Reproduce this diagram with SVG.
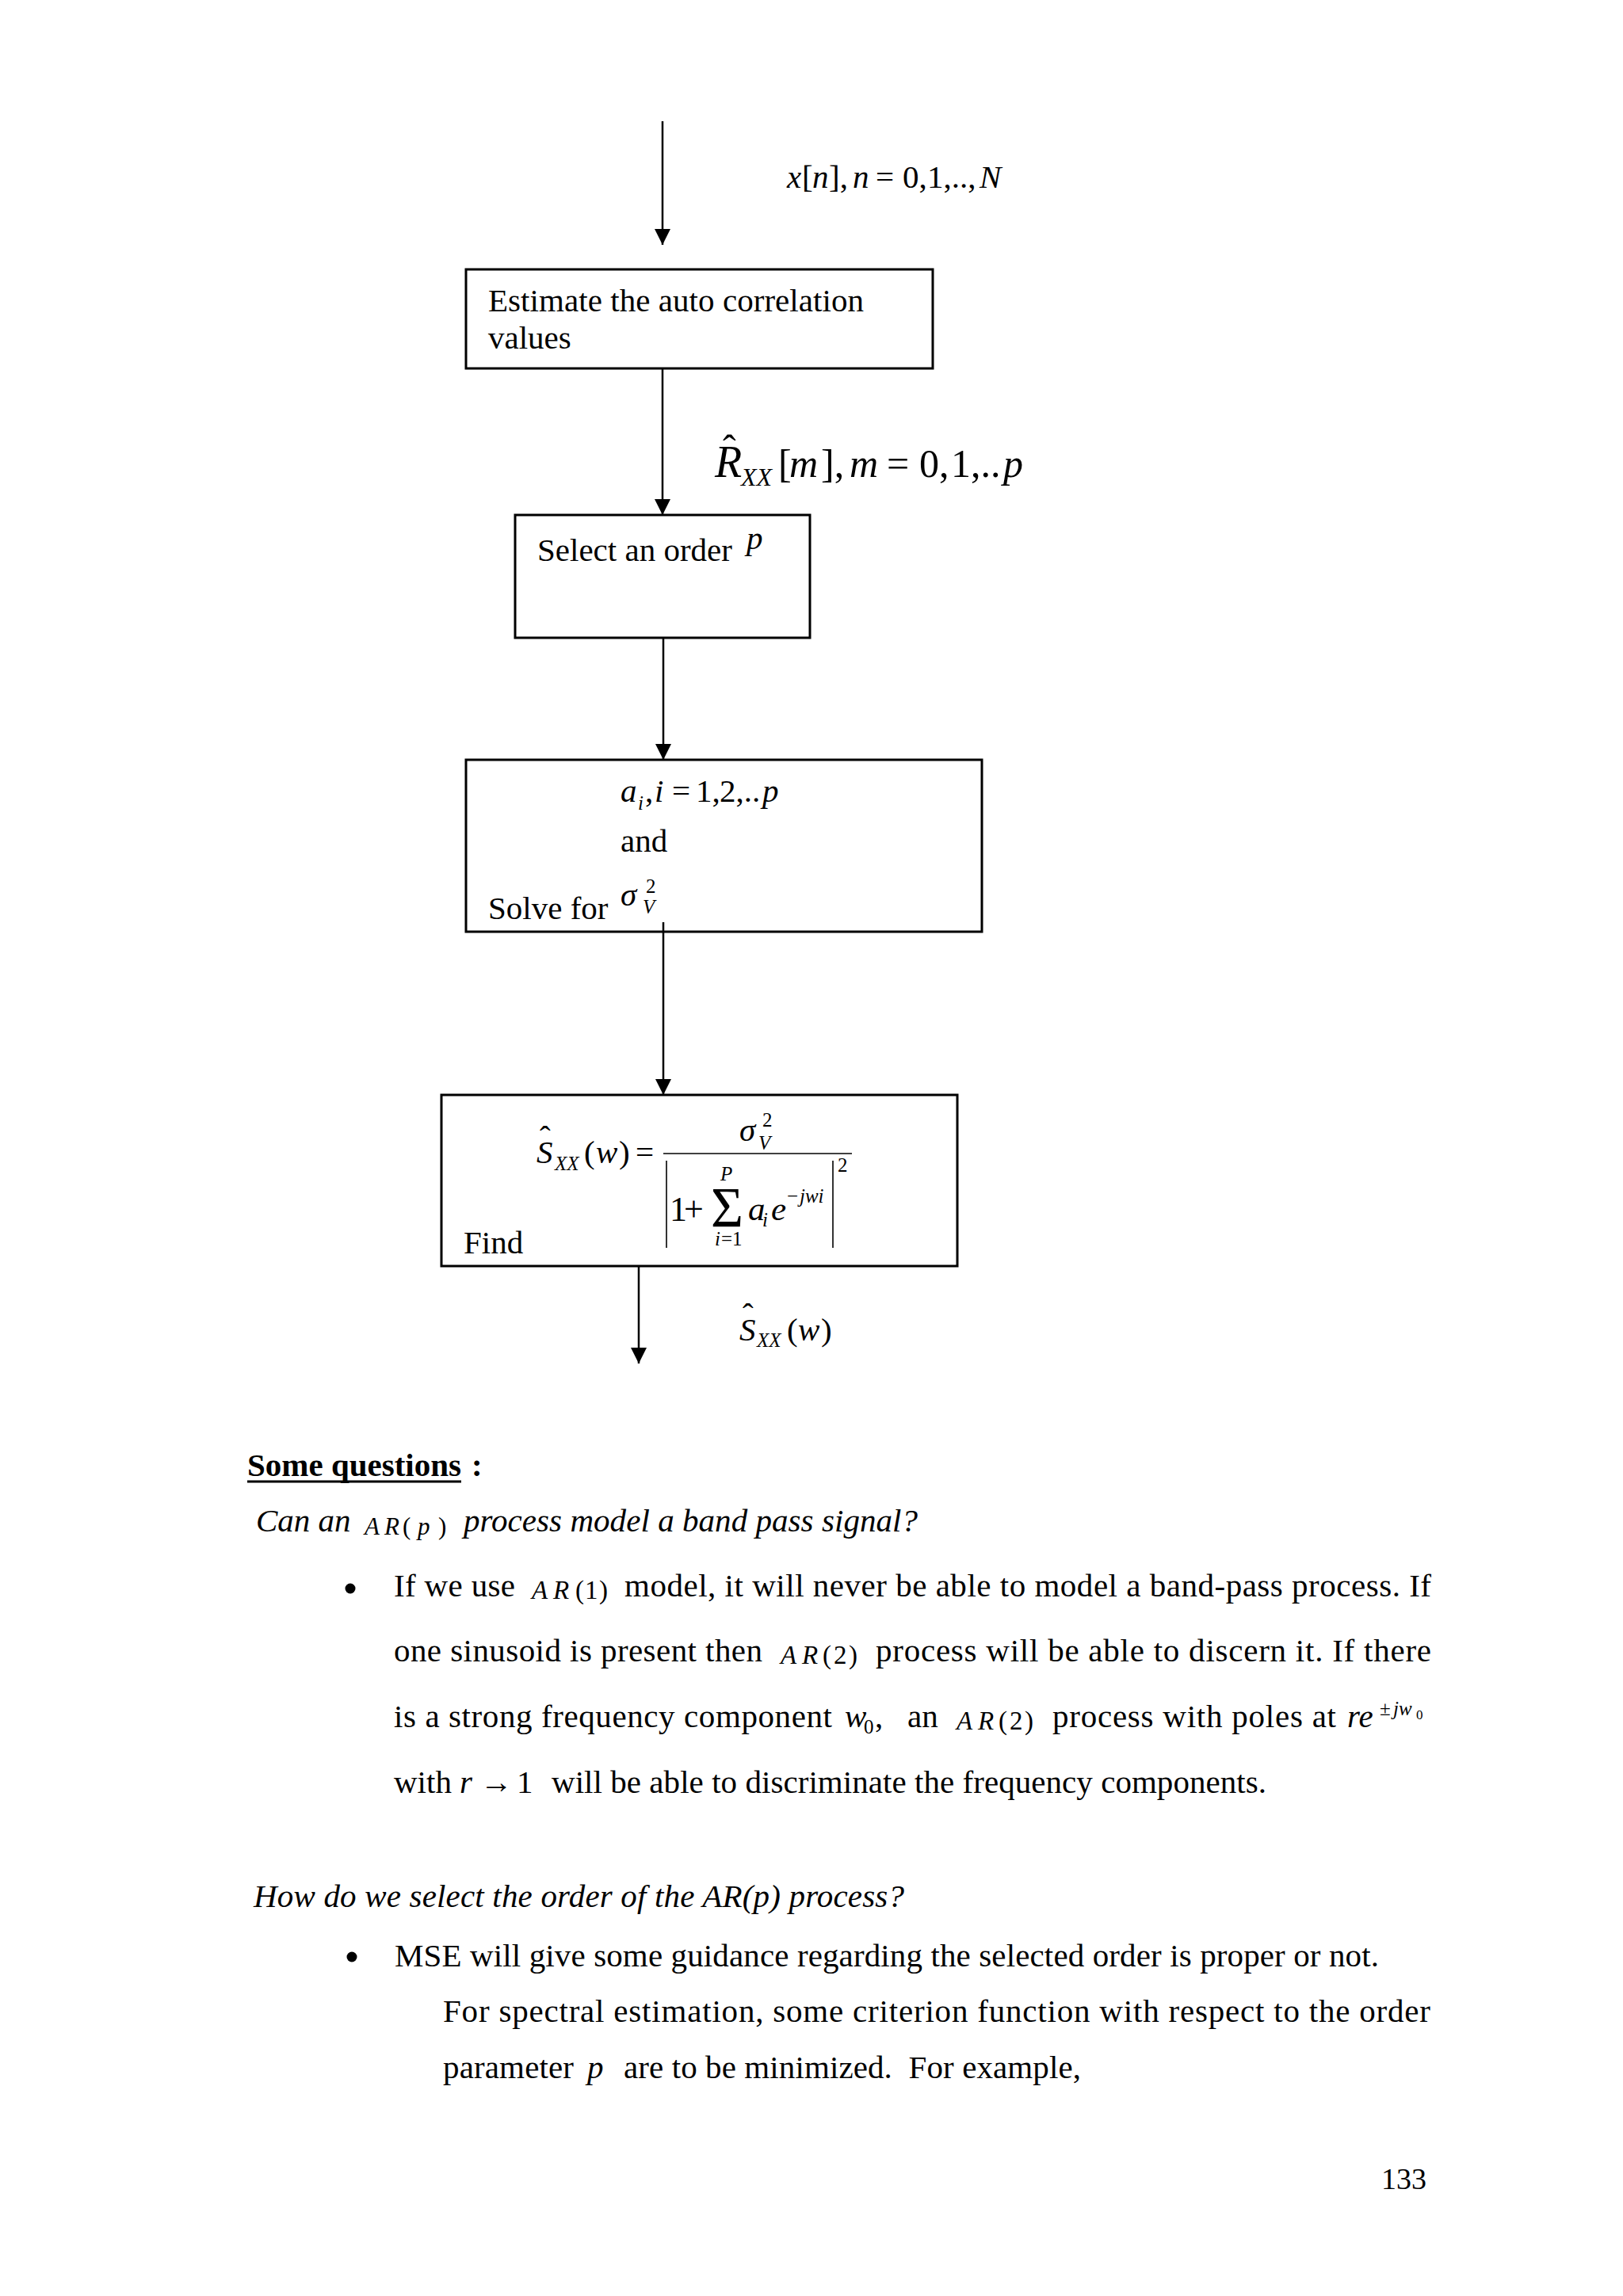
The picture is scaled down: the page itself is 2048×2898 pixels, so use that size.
<svg xmlns="http://www.w3.org/2000/svg" width="2048" height="2898" viewBox="0 0 2048 2898">
<style>
.t{font-family:"Liberation Serif","Times New Roman",serif;font-size:41px;fill:#000}
.i{font-style:italic}
.sm{font-size:25px}
.box{fill:none;stroke:#000;stroke-width:3}
.ln{fill:none;stroke:#000;stroke-width:2.5}
.thin{fill:none;stroke:#000;stroke-width:1.6}
</style>
<defs>
<marker id="ah" markerUnits="userSpaceOnUse" markerWidth="20" markerHeight="20" refX="20" refY="10" orient="auto" viewBox="0 0 20 20"><path d="M0,0 L20,10 L0,20 Z" fill="#000"/></marker>
</defs>
<rect width="2048" height="2898" fill="#fff"/>

<g id="connectors">
<path class="ln" d="M836,153 V309" marker-end="url(#ah)"/>
<path class="ln" d="M836,465 V650" marker-end="url(#ah)"/>
<path class="ln" d="M837,805 V959" marker-end="url(#ah)"/>
<path class="ln" d="M837,1164 V1382" marker-end="url(#ah)"/>
<path class="ln" d="M806,1598 V1721" marker-end="url(#ah)"/>
</g>

<g id="label-input">
<text class="t" y="237"><tspan x="993" class="i">x</tspan><tspan x="1012">[</tspan><tspan x="1025" class="i">n</tspan><tspan x="1046">],</tspan><tspan x="1076" class="i">n</tspan><tspan x="1105">=</tspan><tspan x="1139">0,</tspan><tspan x="1170">1,..,</tspan><tspan x="1236" class="i">N</tspan></text>
</g>

<g id="box1">
<rect class="box" x="588" y="340" width="589" height="125"/>
<text class="t" x="616" y="393" textLength="474">Estimate the auto correlation</text>
<text class="t" x="616" y="440">values</text>
</g>

<g id="label-autocorr">
<text class="t i" x="902" y="602" style="font-size:56px">R</text>
<text class="t" x="912" y="584" style="font-size:50px">ˆ</text>
<text class="t i" x="935" y="613" style="font-size:32px">XX</text>
<text class="t" y="602" style="font-size:50px"><tspan x="982">[</tspan><tspan x="996" class="i">m</tspan><tspan x="1036">],</tspan><tspan x="1072" class="i">m</tspan><tspan x="1119">=</tspan><tspan x="1160">0,</tspan><tspan x="1200">1,..</tspan><tspan x="1266" class="i">p</tspan></text>
</g>

<g id="box2">
<rect class="box" x="650" y="650" width="372" height="155"/>
<text class="t" x="678" y="708">Select an order</text>
<text class="t i" x="942" y="693">p</text>
</g>

<g id="box3">
<rect class="box" x="588" y="959" width="651" height="217"/>
<text class="t" y="1012"><tspan x="783" class="i">a</tspan><tspan x="814">,</tspan><tspan x="826" class="i">i</tspan><tspan x="848">=</tspan><tspan x="878">1,</tspan><tspan x="908">2,..</tspan><tspan x="962" class="i">p</tspan></text>
<text class="t i sm" x="805" y="1022">i</text>
<text class="t" x="783" y="1075">and</text>
<text class="t" x="616" y="1160">Solve for</text>
<text class="t i" x="783" y="1143">σ</text>
<text class="t i sm" x="811" y="1153">V</text>
<text class="t sm" x="815" y="1127">2</text>
</g>

<g id="box4">
<rect class="box" x="557" y="1382" width="651" height="216"/>
<text class="t" x="585" y="1582">Find</text>
<text class="t i" x="677" y="1468">S</text>
<text class="t" x="681" y="1449">ˆ</text>
<text class="t i sm" x="700" y="1477">XX</text>
<text class="t" y="1468"><tspan x="737">(</tspan><tspan x="752" class="i">w</tspan><tspan x="781">)</tspan><tspan x="802">=</tspan></text>
<line class="thin" x1="837" y1="1456" x2="1075" y2="1456"/>
<text class="t i" x="933" y="1440">σ</text>
<text class="t i sm" x="957" y="1451">V</text>
<text class="t sm" x="962" y="1422">2</text>
<line class="thin" x1="841" y1="1465" x2="841" y2="1575"/>
<line class="thin" x1="1051" y1="1465" x2="1051" y2="1575"/>
<text class="t sm" x="1057" y="1479">2</text>
<text class="t" x="845" y="1541" style="font-size:44px">1</text>
<text class="t" x="863" y="1541" style="font-size:44px">+</text>
<text class="t" x="897" y="1548" style="font-size:72px" textLength="41" lengthAdjust="spacingAndGlyphs">Σ</text>
<text class="t i sm" x="909" y="1490">P</text>
<text class="t sm" y="1572"><tspan x="902" class="i">i</tspan><tspan x="910">=1</tspan></text>
<text class="t i" x="944" y="1540" style="font-size:43px">a</text>
<text class="t i sm" x="962" y="1548">i</text>
<text class="t i" x="973" y="1540" style="font-size:43px">e</text>
<text class="t sm" y="1518"><tspan x="993">−</tspan><tspan x="1009" class="i">jwi</tspan></text>
</g>

<g id="label-output">
<text class="t i" x="933" y="1692">S</text>
<text class="t" x="937" y="1673">ˆ</text>
<text class="t i sm" x="955" y="1700">XX</text>
<text class="t" y="1692"><tspan x="993">(</tspan><tspan x="1007" class="i">w</tspan><tspan x="1036">)</tspan></text>
</g>

<g id="body">
<text class="t" x="312" y="1863" font-weight="bold">Some questions</text>
<line x1="312" y1="1870" x2="582" y2="1870" stroke="#000" stroke-width="3"/>
<text class="t" x="595" y="1863" font-weight="bold">:</text>

<text class="t i" x="323" y="1933">Can an</text>
<text class="t" y="1937" style="font-size:31px"><tspan x="460" class="i">A</tspan><tspan x="485" class="i">R</tspan><tspan x="508">(</tspan><tspan x="527" class="i">p</tspan><tspan x="553">)</tspan></text>
<text class="t i" x="585" y="1933" textLength="573">process model a band pass signal?</text>

<circle cx="442" cy="2005" r="6.5" fill="#000"/>
<text class="t" x="497" y="2015" textLength="153">If we use</text>
<text class="t" y="2018" style="font-size:33px"><tspan x="671" class="i">A</tspan><tspan x="698" class="i">R</tspan><tspan x="726">(</tspan><tspan x="738">1</tspan><tspan x="756">)</tspan></text>
<text class="t" x="788" y="2015" textLength="1018">model, it will never be able to model a band-pass process. If</text>

<text class="t" x="497" y="2097" textLength="465">one sinusoid is present then</text>
<text class="t" y="2100" style="font-size:33px"><tspan x="985" class="i">A</tspan><tspan x="1012" class="i">R</tspan><tspan x="1038">(</tspan><tspan x="1052">2</tspan><tspan x="1071">)</tspan></text>
<text class="t" x="1105" y="2097" textLength="701">process will be able to discern it. If there</text>

<text class="t" x="497" y="2180" textLength="553">is a strong frequency component</text>
<text class="t i" x="1066" y="2180">w</text>
<text class="t sm" x="1090" y="2188">0</text>
<text class="t" x="1104" y="2180">,</text>
<text class="t" x="1145" y="2180">an</text>
<text class="t" y="2183" style="font-size:33px"><tspan x="1207" class="i">A</tspan><tspan x="1234" class="i">R</tspan><tspan x="1260">(</tspan><tspan x="1274">2</tspan><tspan x="1293">)</tspan></text>
<text class="t" x="1328" y="2180" textLength="358">process with poles at</text>
<text class="t i" x="1700" y="2180">re</text>
<text class="t sm" y="2165"><tspan x="1741">±</tspan><tspan x="1758" class="i">jw</tspan></text>
<text class="t" x="1787" y="2170" style="font-size:17px">0</text>

<text class="t" x="497" y="2263">with</text>
<text class="t i" x="580" y="2263">r</text>
<text class="t" x="606" y="2263">→</text>
<text class="t" x="652" y="2263">1</text>
<text class="t" x="696" y="2263" textLength="902">will be able to discriminate the frequency components.</text>

<text class="t i" x="320" y="2407" textLength="821">How do we select the order of the AR(p) process?</text>

<circle cx="444" cy="2470" r="6.5" fill="#000"/>
<text class="t" x="498" y="2482" textLength="1242">MSE will give some guidance regarding the selected order is proper or not.</text>
<text class="t" x="559" y="2552" textLength="1246">For spectral estimation, some criterion function with respect to the order</text>
<text class="t" x="559" y="2623" textLength="165">parameter</text>
<text class="t i" x="741" y="2623">p</text>
<text class="t" x="787" y="2623" textLength="577" xml:space="preserve">are to be minimized.  For example,</text>

<text class="t" x="1743" y="2763" style="font-size:38px">133</text>
</g>
</svg>
